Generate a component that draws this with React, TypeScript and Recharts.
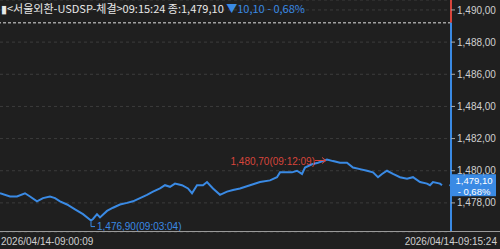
import { LineChart, Line, XAxis, YAxis, CartesianGrid, ReferenceLine, ReferenceDot } from "recharts"

// tick index (trade sequence) and price
const tickIndex = [0, 10, 17, 25, 30, 37, 43, 50, 55, 60, 67, 75, 83, 91, 93, 97, 100, 107, 113, 120, 127, 133, 140, 147, 153, 160, 165, 170, 175, 182, 188, 192, 197, 203, 207, 213, 220, 227, 233, 240, 250, 260, 270, 277, 280, 287, 292, 297, 302, 305, 312, 318, 327, 333, 340, 347, 353, 360, 367, 373, 378, 382, 387, 393, 400, 407, 413, 420, 427, 430, 433, 440, 442]
const prices = [1478.6, 1478.4, 1478.4, 1478.6, 1478.4, 1478.1, 1478.3, 1478.4, 1478.3, 1478.1, 1477.9, 1477.6, 1477.3, 1476.9, 1477.0, 1477.3, 1477.1, 1477.5, 1477.7, 1477.9, 1478.0, 1478.1, 1478.3, 1478.5, 1478.7, 1478.9, 1479.1, 1479.0, 1479.2, 1479.1, 1478.9, 1478.6, 1479.1, 1479.1, 1479.3, 1478.9, 1478.5, 1478.7, 1478.8, 1478.9, 1479.1, 1479.3, 1479.4, 1479.6, 1479.9, 1479.9, 1479.9, 1480.0, 1479.8, 1480.2, 1480.4, 1480.5, 1480.7, 1480.6, 1480.5, 1480.5, 1480.2, 1480.1, 1480.0, 1479.9, 1479.6, 1479.8, 1480.0, 1479.8, 1479.6, 1479.5, 1479.6, 1479.3, 1479.2, 1479.1, 1479.3, 1479.2, 1479.1]

const yTicks = [1478, 1480, 1482, 1484, 1486, 1488, 1490]
const prevClose = 1489.2
const lastPrice = 1479.1
const changePct = "- 0,68%"
const lowPoint = { idx: 91, price: 1476.9, time: "09:03:04" }
const highPoint = { idx: 327, price: 1480.7, time: "09:12:09" }
const xLabels = ["2026/04/14-09:00:09", "2026/04/14-09:15:24"]
const titleMain = "▮<서울외환-USDSP-체결>09:15:24 종:1,479,10 "
const titleChange = "▼10,10 - 0,68%"

const data = tickIndex.map((idx, i) => ({ idx, price: prices[i] }))

const Y_MIN = 1476.19
const Y_MAX = 1490.62
const X_MAX = 451

const BLUE = "#3a8ae4"
const RED = "#d8453c"
const TEXT = "#cfcfcf"
const FONT = "'Liberation Sans', Arial, sans-serif"

const fmt = (v: number) => {
  const [i, d] = v.toFixed(2).split(".")
  return i.replace(/\B(?=(\d{3})+(?!\d))/g, ",") + "," + d
}

const XTick = ({ y, payload }: any) => {
  const first = payload.value === 0
  return (
    <text x={first ? 1 : 497} y={y + 9} dominantBaseline="central" textAnchor={first ? "start" : "end"} fill={TEXT} fontSize={10} fontFamily={FONT}>
      {first ? xLabels[0] : xLabels[1]}
    </text>
  )
}

const PriceBox = ({ cx, cy }: any) => (
  <g>
    <polygon points={`${cx - 2},${cy} ${cx + 2},${cy - 5} ${cx + 2},${cy + 5}`} fill={BLUE} />
    <rect x={cx + 1} y={cy - 11} width={44} height={22} fill={BLUE} />
    <text x={cx + 23} y={cy - 5} dominantBaseline="central" textAnchor="middle" fill="#fff" fontSize={9.5} fontFamily={FONT}>{fmt(lastPrice)}</text>
    <text x={cx + 23} y={cy + 6} dominantBaseline="central" textAnchor="middle" fill="#fff" fontSize={9.5} fontFamily={FONT}>{changePct}</text>
  </g>
)

const LowMark = ({ cx, cy }: any) => (
  <g>
    <path d={`M${cx},${cy + 1} V${cy + 6} H${cx + 4}`} stroke={BLUE} fill="none" strokeWidth={1} />
    <text x={cx + 6} y={cy + 6} dominantBaseline="central" fill={BLUE} fontSize={10} fontFamily={FONT}>
      {`${fmt(lowPoint.price)}(${lowPoint.time})`}
    </text>
  </g>
)

const HighMark = ({ cx, cy }: any) => (
  <g>
    <text x={cx - 12} y={cy + 2} dominantBaseline="central" textAnchor="end" fill={RED} fontSize={10} fontFamily={FONT}>
      {`${fmt(highPoint.price)}(${highPoint.time})`}
    </text>
    <path d={`M${cx - 12},${cy + 1} H${cx - 2}`} stroke={RED} strokeWidth={1} />
    <path d={`M${cx - 5},${cy - 2} L${cx - 1},${cy + 1} L${cx - 5},${cy + 4}`} stroke={RED} fill="none" strokeWidth={1} />
  </g>
)

export default function App() {
  return (
    <div style={{ position: "fixed", left: 0, top: 0, width: 500, height: 249, background: "#1f1f1f", overflow: "hidden" }}>
      <LineChart width={500} height={249} data={data} margin={{ top: 0, right: 0, bottom: 0, left: 0 }}>
        <CartesianGrid vertical={false} stroke="#3c3c3c" strokeDasharray="3 3" />
        <XAxis dataKey="idx" type="number" domain={[0, X_MAX]} ticks={[0, X_MAX]} interval={0} height={17}
          axisLine={false} tickLine={false} tickSize={0} tickMargin={0} tick={<XTick />} />
        <YAxis orientation="right" width={49} domain={[Y_MIN, Y_MAX]} ticks={yTicks} allowDataOverflow axisLine={false}
          tickLine={{ stroke: "#aaa" }} tickSize={4} tickMargin={2}
          tick={{ fill: TEXT, fontSize: 10, fontFamily: FONT }} tickFormatter={fmt} />
        <ReferenceLine y={prevClose} stroke="#e0e0e0" strokeDasharray="3 2" />
        <ReferenceLine segment={[{ x: X_MAX, y: prevClose }, { x: X_MAX, y: Y_MAX }]} stroke={RED} strokeWidth={2} ifOverflow="visible" />
        <ReferenceLine segment={[{ x: X_MAX, y: Y_MIN }, { x: X_MAX, y: prevClose }]} stroke={BLUE} strokeWidth={2} ifOverflow="visible" />
        <Line type="linear" dataKey="price" stroke={BLUE} strokeWidth={2} dot={false} activeDot={false} isAnimationActive={false} />
        <ReferenceDot x={lowPoint.idx} y={lowPoint.price} shape={<LowMark />} ifOverflow="visible" />
        <ReferenceDot x={highPoint.idx} y={highPoint.price} shape={<HighMark />} ifOverflow="visible" />
        <ReferenceDot x={X_MAX} y={lastPrice} shape={<PriceBox />} ifOverflow="visible" />
      </LineChart>
      <div style={{ position: "absolute", left: 0, top: 231, width: 500, height: 1, background: "#9a9a9a" }} />
      <div style={{ position: "absolute", left: 1, top: 1, fontSize: 11, lineHeight: "14px", whiteSpace: "nowrap", fontFamily: "'Noto Sans CJK KR', sans-serif", color: "#e8e8e8", letterSpacing: 0 }}>
        {titleMain}<span style={{ color: BLUE }}>{titleChange}</span>
      </div>
    </div>
  )
}
